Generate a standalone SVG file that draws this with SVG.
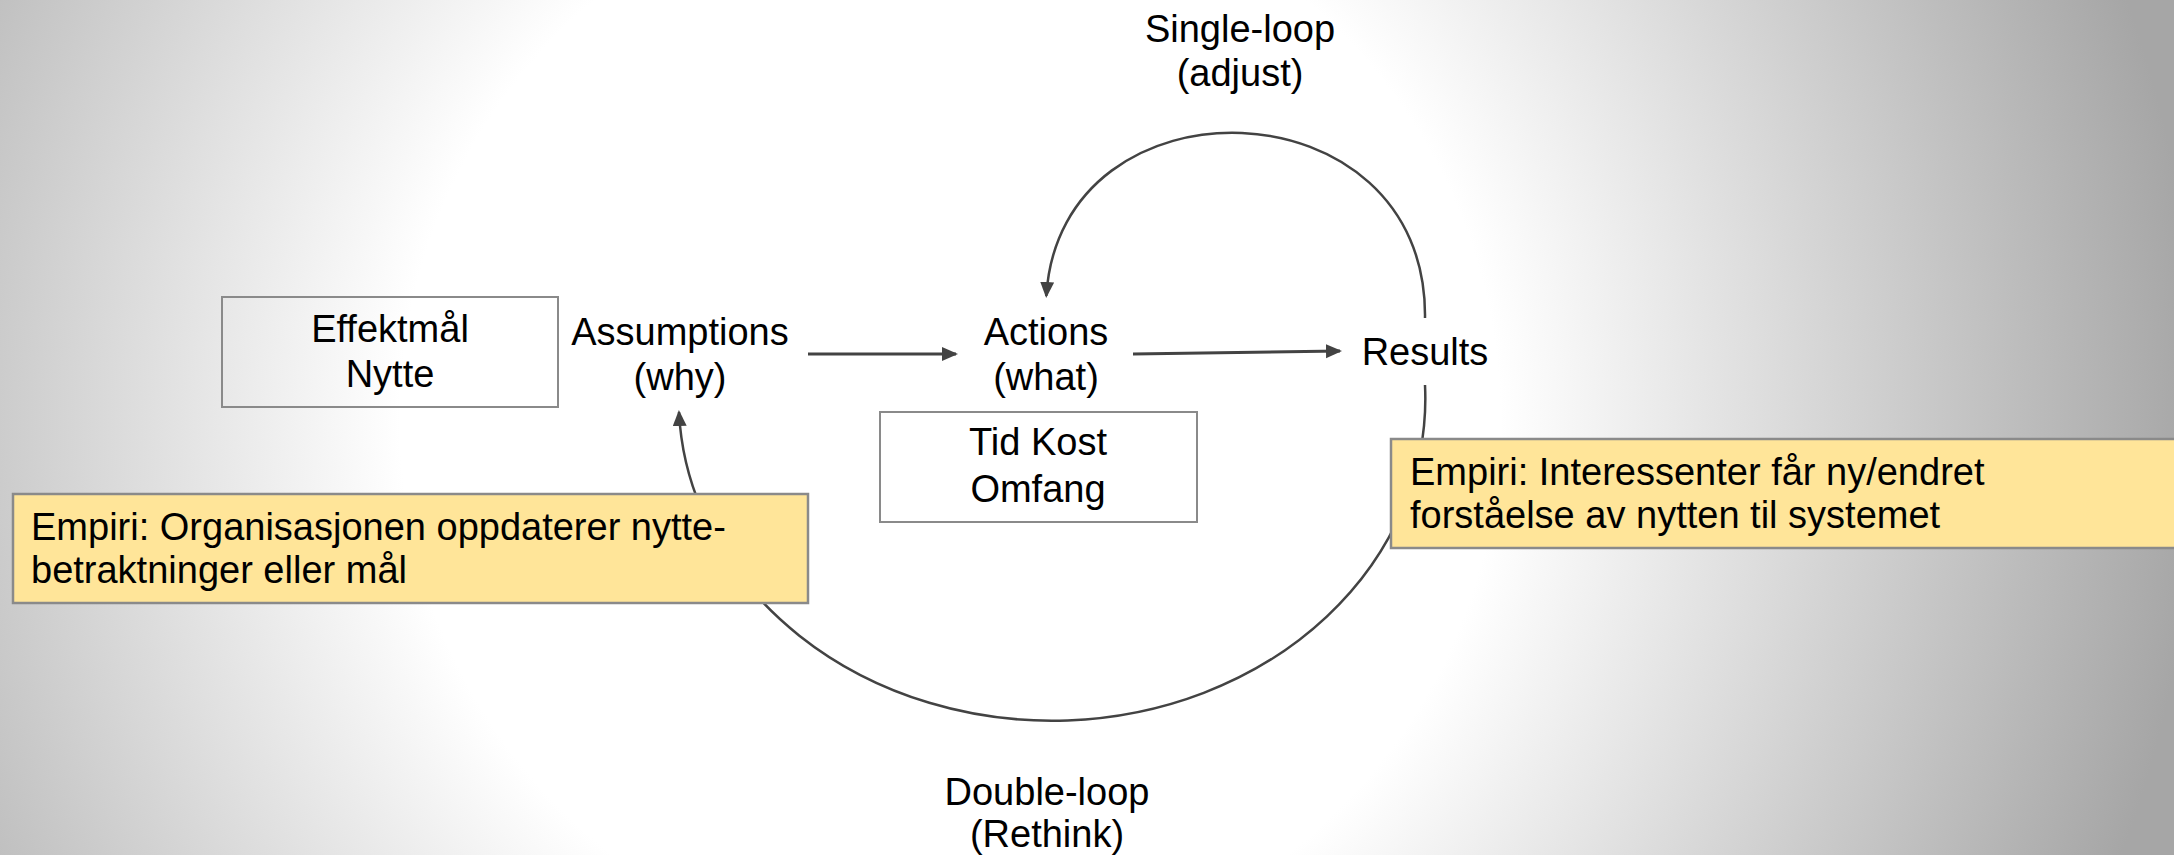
<svg xmlns="http://www.w3.org/2000/svg" width="2174" height="855" viewBox="0 0 2174 855">
  <defs>
    <radialGradient id="bg" gradientUnits="userSpaceOnUse" cx="950" cy="420" r="1250">
      <stop offset="0.44" stop-color="#ffffff"/>
      <stop offset="1" stop-color="#a6a6a6"/>
    </radialGradient>
    <marker id="arrow" markerUnits="userSpaceOnUse" markerWidth="18" markerHeight="16" refX="14" refY="7" orient="auto">
      <path d="M0,0 L16,7 L0,14 z" fill="#434343"/>
    </marker>
  </defs>
  <style>
    text { font-family: "Liberation Sans", Arial, sans-serif; font-size: 38px; fill: #000; }
    .c { text-anchor: middle; }
    .box { fill: none; stroke: #8a8a8a; stroke-width: 2; }
    .note { fill: #ffe599; stroke: #8a8a8a; stroke-width: 2.5; }
    .conn { fill: none; stroke: #434343; stroke-width: 3; }
    .arc { fill: none; stroke: #434343; stroke-width: 2.5; }
  </style>
  <rect x="0" y="0" width="2174" height="855" fill="url(#bg)"/>

  <g id="connectors">
    <line class="conn" x1="808" y1="354" x2="956" y2="354" marker-end="url(#arrow)"/>
    <line class="conn" x1="1133" y1="354" x2="1340" y2="351" marker-end="url(#arrow)"/>
    <path id="single-loop-arc" class="arc" d="M1425,318 C1428,80 1060,70 1046.3,296" marker-end="url(#arrow)"/>
    <path id="double-loop-arc" class="arc" d="M1425,385 A373,322 0 0 1 679,412" marker-end="url(#arrow)"/>
  </g>

  <g id="effektmal">
    <rect class="box" x="222" y="297" width="336" height="110"/>
    <text class="c" x="390" y="342">Effektmål</text>
    <text class="c" x="390" y="387">Nytte</text>
  </g>

  <g id="assumptions">
    <text class="c" x="680" y="345">Assumptions</text>
    <text class="c" x="680" y="390">(why)</text>
  </g>

  <g id="actions">
    <text class="c" x="1046" y="345">Actions</text>
    <text class="c" x="1046" y="390">(what)</text>
  </g>

  <g id="tid-kost">
    <rect class="box" x="880" y="412" width="317" height="110"/>
    <text class="c" x="1038" y="455">Tid  Kost</text>
    <text class="c" x="1038" y="502">Omfang</text>
  </g>

  <g id="results">
    <text class="c" x="1425" y="365">Results</text>
  </g>

  <g id="single-loop-label">
    <text class="c" x="1240" y="42">Single-loop</text>
    <text class="c" x="1240" y="86">(adjust)</text>
  </g>

  <g id="double-loop-label">
    <text class="c" x="1047" y="805">Double-loop</text>
    <text class="c" x="1047" y="847">(Rethink)</text>
  </g>

  <g id="note-left">
    <rect class="note" x="13" y="494" width="795" height="109"/>
    <text x="31" y="540">Empiri: Organisasjonen oppdaterer nytte-</text>
    <text x="31" y="583">betraktninger eller mål</text>
  </g>

  <g id="note-right">
    <rect class="note" x="1391" y="439" width="800" height="109"/>
    <text x="1410" y="485">Empiri: Interessenter får ny/endret</text>
    <text x="1410" y="528">forståelse av nytten til systemet</text>
  </g>
</svg>
